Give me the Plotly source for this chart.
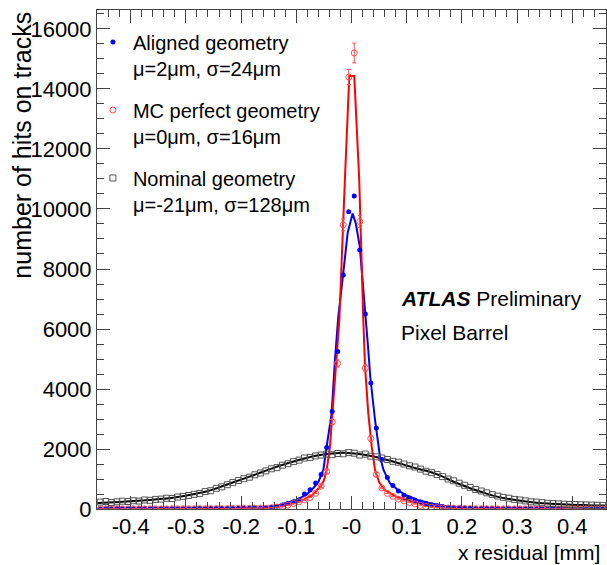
import plotly.graph_objects as go

# ---------------- data ----------------
# histogram bin centres: -0.455 ... 0.455 (width 0.01 mm)
bin_lo = -0.455
bin_w = 0.01

aligned = [  # blue, filled circles
    4, 6, 5, 7, 6, 5, 8, 7, 6, 9,
    8, 7, 10, 9, 11, 10, 12, 11, 13, 12,
    14, 15, 17, 18, 20, 22, 25, 28, 32, 36,
    40, 60, 95, 135, 180, 240, 300, 500, 640, 870,
    1150, 2050, 3250, 5250, 7800, 9910, 10430, 8630, 6500, 4200,
    2700, 1650, 1050, 780, 600, 460, 370, 290, 230, 180,
    140, 110, 80, 62, 48, 38, 30, 24, 20, 17,
    15, 13, 12, 11, 10, 9, 9, 8, 8, 7,
    7, 6, 6, 6, 5, 5, 5, 4, 4, 4,
    4, 3,
]

mc_perfect = [  # red, open circles
    4, 5, 3, 6, 5, 4, 6, 7, 5, 6,
    8, 7, 6, 9, 8, 10, 9, 11, 12, 10,
    13, 14, 12, 16, 18, 20, 22, 25, 28, 32,
    25, 40, 60, 90, 130, 185, 240, 300, 380, 520,
    760, 1250, 2900, 4850, 9470, 14400, 15200, 9580, 4700, 2350,
    1150, 700, 520, 420, 330, 270, 215, 170, 120, 85,
    60, 45, 35, 28, 22, 18, 15, 12, 10, 9,
    8, 7, 6, 6, 5, 5, 4, 4, 4, 3,
    3, 3, 3, 2, 2, 2, 2, 2, 2, 1,
    1, 1,
]

mc_err = [0] * 40 + [40, 60, 90, 120, 200, 250, 330, 200, 120, 90, 60] + [0] * 41

nominal = [  # black, open squares
    230, 250, 215, 240, 260, 250, 275, 265, 300, 290,
    320, 330, 360, 350, 400, 420, 450, 490, 520, 580,
    610, 690, 740, 810, 880, 950, 1010, 1060, 1140, 1200,
    1270, 1340, 1380, 1460, 1510, 1580, 1630, 1700, 1720, 1770,
    1800, 1830, 1810, 1850, 1840, 1880, 1860, 1800, 1830, 1760,
    1740, 1700, 1650, 1590, 1560, 1500, 1440, 1400, 1330, 1260,
    1210, 1150, 1080, 1000, 940, 860, 790, 720, 650, 600,
    540, 480, 430, 390, 360, 320, 300, 270, 240, 230,
    210, 190, 180, 170, 160, 150, 150, 140, 135, 130,
    125, 120,
]

# fitted curves
fit_blue_x = [-0.46, -0.30, -0.22, -0.166, -0.13, -0.10, -0.082, -0.069, -0.060, -0.051,
              -0.045, -0.036, -0.030, -0.024, -0.015, -0.007, 0.002, 0.008, 0.015, 0.026,
              0.030, 0.034, 0.0426, 0.0516, 0.058, 0.0697, 0.088, 0.10, 0.12, 0.142,
              0.178, 0.20, 0.25, 0.30, 0.46]
fit_blue_y = [0, 3, 10, 30, 140, 300, 467, 700, 900, 1300,
              2078, 3190, 4967, 6400, 7850, 9200, 9850, 9500, 8744, 6400,
              5400, 4400, 2967, 1744, 1300, 856, 578, 450, 300, 189,
              70, 50, 15, 5, 0]

fit_red_x = [-0.46, -0.25, -0.20, -0.16, -0.13, -0.10, -0.085, -0.07, -0.057, -0.050,
             -0.045, -0.039, -0.033, -0.027, -0.022, -0.012, -0.004, 0.005, 0.014, 0.0214,
             0.0245, 0.0304, 0.0366, 0.0426, 0.05, 0.06, 0.08, 0.10, 0.12, 0.14,
             0.17, 0.20, 0.25, 0.30, 0.46]
fit_red_y = [0, 5, 15, 35, 90, 210, 320, 480, 740, 950,
             1300, 2078, 3522, 4856, 6300, 10967, 14430, 14430, 10967, 6300,
             4744, 3190, 2078, 1300, 900, 640, 420, 300, 200, 120,
             56, 25, 8, 3, 0]

fit_black_x = [-0.46, -0.44, -0.42, -0.40, -0.38, -0.36, -0.34, -0.32, -0.30, -0.28,
               -0.26, -0.24, -0.22, -0.20, -0.18, -0.16, -0.14, -0.12, -0.10, -0.08,
               -0.06, -0.04, -0.02, 0.00, 0.02, 0.04, 0.06, 0.08, 0.10, 0.12,
               0.14, 0.16, 0.18, 0.20, 0.22, 0.24, 0.26, 0.28, 0.30, 0.32,
               0.34, 0.36, 0.38, 0.40, 0.42, 0.44, 0.46]
fit_black_y = [200, 215, 235, 260, 285, 310, 345, 385, 440, 515,
               600, 720, 850, 980, 1110, 1240, 1380, 1500, 1610, 1710,
               1790, 1840, 1870, 1860, 1820, 1750, 1660, 1560, 1450, 1340,
               1250, 1120, 950, 800, 660, 540, 430, 350, 290, 240,
               200, 175, 155, 140, 130, 120, 115]

x_tick_vals = [-0.4, -0.3, -0.2, -0.1, 0.0, 0.1, 0.2, 0.3, 0.4]
x_tick_text = ["-0.4", "-0.3", "-0.2", "-0.1", "-0", "0.1", "0.2", "0.3", "0.4"]
y_tick_vals = [0, 2000, 4000, 6000, 8000, 10000, 12000, 14000, 16000]
y_tick_text = ["0", "2000", "4000", "6000", "8000", "10000", "12000", "14000", "16000"]

legend_names = [
    "Aligned geometry<br>\u03bc=2\u03bcm, \u03c3=24\u03bcm",
    "MC perfect geometry<br>\u03bc=0\u03bcm, \u03c3=16\u03bcm",
    "Nominal geometry<br>\u03bc=-21\u03bcm, \u03c3=128\u03bcm",
]

# ---------------- figure ----------------
centres = [round(bin_lo + bin_w * i, 4) for i in range(len(nominal))]
FONT = "Liberation Sans, Arial, Helvetica, sans-serif"

fig = go.Figure()

# fits (drawn below the points)
fig.add_trace(go.Scatter(x=fit_black_x, y=fit_black_y, mode="lines", line=dict(color="black", width=2, shape="spline"),
                         showlegend=False, hoverinfo="skip"))
fig.add_trace(go.Scatter(x=fit_blue_x, y=fit_blue_y, mode="lines", line=dict(color="#0000ff", width=2),
                         showlegend=False, hoverinfo="skip"))
fig.add_trace(go.Scatter(x=fit_red_x, y=fit_red_y, mode="lines", line=dict(color="#ff0000", width=2),
                         showlegend=False, hoverinfo="skip"))

# data points
fig.add_trace(go.Scatter(x=centres, y=aligned, mode="markers", name=legend_names[0], legendgroup="a",
                         marker=dict(symbol="circle", size=5, color="#0000ff")))
fig.add_trace(go.Scatter(x=centres, y=mc_perfect, mode="markers", name=legend_names[1], legendgroup="b",
                         marker=dict(symbol="circle-open", size=6, color="#ff5050", line=dict(width=1)),
                         error_y=dict(type="data", array=mc_err, color="#ff5050", thickness=1, width=2)))
fig.add_trace(go.Scatter(x=centres, y=nominal, mode="markers", name=legend_names[2], legendgroup="c",
                         marker=dict(symbol="square-open", size=6, color="#555555", line=dict(width=1))))

TICKFONT = dict(family=FONT, size=22, color="black")

fig.update_layout(
    width=607, height=565,
    margin=dict(l=97, r=1, t=10, b=56, autoexpand=False),
    paper_bgcolor="white", plot_bgcolor="white",
    font=dict(family=FONT, color="black"),
    xaxis=dict(range=[-0.461, 0.461], tickmode="array", tickvals=x_tick_vals, ticktext=x_tick_text,
               showline=True, linecolor="#444444", linewidth=1, mirror="ticks",
               ticks="inside", tickcolor="#444444", tickwidth=1, ticklen=13,
               showgrid=False, zeroline=False, automargin=False, tickfont=TICKFONT,
               ticklabelstandoff=-2,
               minor=dict(dtick=0.02, tick0=0, ticks="inside", ticklen=7, tickcolor="#444444")),
    yaxis=dict(range=[0, 16633], tickmode="array", tickvals=y_tick_vals, ticktext=y_tick_text,
               showline=True, linecolor="#444444", linewidth=1, mirror="ticks",
               ticks="inside", tickcolor="#444444", tickwidth=1, ticklen=13,
               showgrid=False, zeroline=False, automargin=False, tickfont=TICKFONT,
               minor=dict(dtick=500, tick0=0, ticks="inside", ticklen=7, tickcolor="#444444")),
    legend=dict(x=-0.008, y=0.975, xanchor="left", yanchor="top", bgcolor="rgba(0,0,0,0)",
                font=dict(family=FONT, size=20, color="black"), valign="top",
                tracegroupgap=13, itemwidth=30),
    showlegend=True,
    annotations=[
        dict(text="number of hits on tracks", xref="paper", yref="paper", x=-0.149, y=1.0,
             xanchor="center", yanchor="top", textangle=-90, showarrow=False,
             font=dict(family=FONT, size=25)),
        dict(text="x residual [mm]", xref="paper", yref="paper", x=0.992, y=-0.088,
             xanchor="right", yanchor="middle", showarrow=False, font=dict(family=FONT, size=21)),
        dict(text="<b><i>ATLAS</i></b> Preliminary", xref="paper", yref="paper", x=0.593, y=0.4228,
             xanchor="left", yanchor="middle", showarrow=False, font=dict(family=FONT, size=21)),
        dict(text="Pixel Barrel", xref="paper", yref="paper", x=0.593, y=0.3547,
             xanchor="left", yanchor="middle", showarrow=False, font=dict(family=FONT, size=21)),
    ],
)

fig.write_html("out.html",
               config={"displayModeBar": False},
               post_script="document.body.style.margin='0px';document.body.style.padding='0px';"
                           "document.body.style.overflow='hidden';")
